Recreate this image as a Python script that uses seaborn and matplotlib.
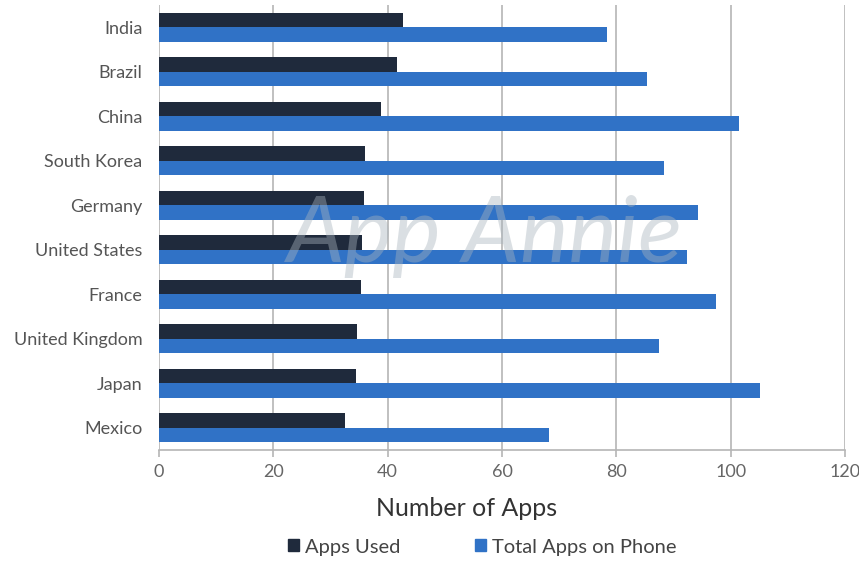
import matplotlib
matplotlib.use("Agg")
import matplotlib.pyplot as plt
import seaborn as sns
import pandas as pd
from matplotlib.patches import Patch

countries = ["India", "Brazil", "China", "South Korea", "Germany",
             "United States", "France", "United Kingdom", "Japan", "Mexico"]
apps_used = [42.7, 41.7, 38.9, 36.0, 35.8, 35.5, 35.3, 34.6, 34.4, 32.6]
total_apps = [78.4, 85.4, 101.4, 88.3, 94.2, 92.4, 97.4, 87.5, 105.2, 68.3]
series = ["Apps Used", "Total Apps on Phone"]
colors = ["#1f2a3c", "#3072c6"]
x_ticks = [0, 20, 40, 60, 80, 100, 120]

df = pd.DataFrame({
    "Country": countries * 2,
    "Series": [series[0]] * len(countries) + [series[1]] * len(countries),
    "Value": apps_used + total_apps,
})

sns.set_theme(style="white")
plt.rcParams["font.family"] = ["Lato", "DejaVu Sans"]

fig = plt.figure(figsize=(8.59, 5.62), dpi=100)
ax = fig.add_axes([159 / 859, 1 - 450 / 562, (845 - 159) / 859, (450 - 5) / 562])

sns.barplot(data=df, y="Country", x="Value", hue="Series", order=countries,
            hue_order=series, palette=colors, orient="h", width=0.66,
            saturation=1, ax=ax, legend=False, zorder=3, linewidth=0,
            edgecolor="none")

ax.set_xlim(0, 120)
ax.set_ylim(9.5, -0.5)
ax.set_xticks(x_ticks)
ax.xaxis.grid(True, color="#b5b5b5", linewidth=1.2, zorder=0)
ax.yaxis.grid(False)
ax.set_axisbelow(True)
for s in ["top", "right", "left"]:
    ax.spines[s].set_visible(False)
ax.spines["bottom"].set_color("#b5b5b5")
ax.spines["bottom"].set_linewidth(1.2)
ax.tick_params(axis="x", which="both", bottom=True, length=5, width=1.2,
               color="#b5b5b5", labelsize=13, labelcolor="#666666", pad=5)
ax.tick_params(axis="y", left=False, labelsize=13, labelcolor="#555555", pad=6)
ax.set_xlabel("")
ax.set_ylabel("")

# watermark
ax.text(0.475, 0.48, "App Annie", transform=ax.transAxes, fontsize=66,
        style="italic", color="#a9b4bd", alpha=0.42, ha="center", va="center",
        zorder=4, family=["Lato", "DejaVu Sans"])

fig.text(467 / 859, 1 - 509 / 562, "Number of Apps", ha="center", va="center",
         fontsize=18, color="#333333")

handles = [Patch(facecolor=c, edgecolor=c) for c in colors]
fig.legend(handles, series, loc="center", bbox_to_anchor=(482 / 859, 1 - 547 / 562),
           ncol=2, frameon=False, fontsize=14.5, handlelength=0.55, handleheight=0.55,
           handletextpad=0.3, columnspacing=3.7, labelcolor="#444444")

fig.savefig("out.png", dpi=100)
